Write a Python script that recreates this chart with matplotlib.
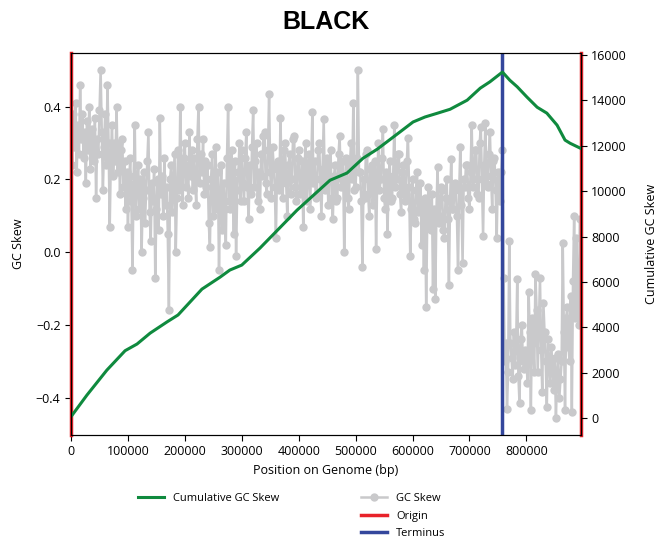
import matplotlib.pyplot as plt
import numpy as np

# Datos de la ventana deslizante (paso de 2000 bp)
paso_ventana = 2000
gc_skew = [
    0.32, 0.24, 0.38, 0.29, 0.41, 0.22, 0.35, 0.27, 0.46, 0.31,
    0.38, 0.26, 0.33, 0.19, 0.36, 0.28, 0.40, 0.23, 0.34, 0.30,
    0.25, 0.37, 0.15, 0.31, 0.27, 0.39, 0.50, 0.33, 0.17, 0.29,
    0.38, 0.24, 0.46, 0.30, 0.07, 0.26, 0.35, 0.21, 0.30, 0.25,
    0.40, 0.22, 0.30, 0.16, 0.28, 0.31, 0.18, 0.25, 0.12, 0.22,
    0.07, 0.19, 0.26, 0.14, -0.05, 0.21, 0.35, 0.10, 0.18, 0.24,
    0.12, 0.20, 0.00, 0.15, 0.22, 0.08, 0.17, 0.25, 0.33, 0.11,
    0.03, 0.19, 0.14, 0.23, -0.07, 0.12, 0.20, 0.06, 0.37, 0.16,
    0.21, 0.10, 0.26, 0.13, 0.18, 0.05, -0.16, 0.20, 0.24, 0.11,
    0.19, 0.27, 0.00, 0.15, 0.28, 0.17, 0.40, 0.22, 0.13, 0.26,
    0.30, 0.18, 0.24, 0.15, 0.33, 0.21, 0.28, 0.17, 0.26, 0.20,
    0.13, 0.31, 0.40, 0.19, 0.27, 0.22, 0.31, 0.16, 0.25, 0.18,
    0.24, 0.08, 0.015, 0.20, 0.27, 0.10, 0.18, 0.29, 0.12, 0.22,
    -0.05, 0.15, 0.24, 0.06, 0.19, 0.12, 0.02, 0.26, 0.40, 0.14,
    0.12, 0.28, 0.20, 0.05, 0.25, -0.01, 0.17, 0.22, 0.30, 0.14,
    0.28, 0.19, 0.14, 0.26, 0.33, 0.18, 0.09, 0.24, 0.16, 0.29,
    0.39, 0.18, 0.25, 0.30, 0.14, 0.22, 0.12, 0.27, 0.21, 0.32,
    0.33, 0.19, 0.16, 0.28, 0.435, 0.22, 0.15, 0.29, 0.24, 0.18,
    0.04, 0.23, 0.25, 0.17, 0.37, 0.21, 0.15, 0.28, 0.30, 0.19,
    0.10, 0.24, 0.27, 0.16, 0.20, 0.31, 0.32, 0.18, 0.14, 0.26,
    0.28, 0.16, 0.18, 0.25, 0.07, 0.21, 0.30, 0.14, 0.22, 0.27,
    0.12, 0.24, 0.385, 0.19, 0.25, 0.15, 0.16, 0.28, 0.30, 0.20,
    0.10, 0.23, 0.365, 0.17, 0.20, 0.26, 0.13, 0.24, 0.28, 0.15,
    0.09, 0.21, 0.24, 0.14, 0.15, 0.27, 0.32, 0.18, 0.20, 0.25,
    0.00, 0.19, 0.26, 0.15, 0.12, 0.24, 0.30, 0.20, 0.41, 0.17,
    0.18, 0.26, 0.50, 0.22, 0.22, 0.14, -0.04, 0.20, 0.15, 0.27,
    0.28, 0.16, 0.10, 0.23, 0.24, 0.13, 0.18, 0.25, 0.01, 0.20,
    0.30, 0.17, 0.20, 0.26, 0.34, 0.15, 0.12, 0.22, 0.05, 0.19,
    0.25, 0.14, 0.15, 0.21, 0.35, 0.18, 0.20, 0.27, 0.27, 0.16,
    0.11, 0.22, 0.24, 0.14, 0.16, 0.25, 0.315, 0.18, -0.01, 0.12,
    0.20, 0.09, 0.08, 0.17, 0.22, 0.11, 0.12, 0.19, 0.02, 0.14,
    -0.05, 0.15, -0.15, 0.10, 0.18, 0.07, 0.06, 0.16, -0.10, 0.12,
    -0.13, 0.11, 0.235, 0.08, 0.10, 0.18, 0.17, 0.06, 0.04, 0.15,
    0.20, 0.09, -0.09, 0.14, 0.255, 0.12, 0.12, 0.19, 0.18, 0.10,
    -0.05, 0.17, 0.29, 0.13, -0.03, 0.20, 0.18, 0.24, 0.24, 0.15,
    0.12, 0.22, 0.35, 0.18, 0.20, 0.28, 0.28, 0.16, 0.15, 0.30,
    0.345, 0.20, 0.045, 0.24, 0.355, 0.19, 0.18, 0.27, 0.33, 0.21,
    0.12, 0.25, 0.26, 0.17, 0.04, 0.22, 0.20, 0.14, 0.22, 0.28,
    -0.07, -0.30, -0.25, -0.43, -0.33, 0.03, -0.25, -0.29, -0.35, -0.22,
    -0.31, -0.26, -0.075, -0.34, -0.415, -0.24, -0.20, -0.30, -0.32, -0.27,
    -0.28, -0.36, -0.11, -0.22, -0.435, -0.18, -0.25, -0.33, -0.06, -0.16,
    -0.33, -0.20, -0.07, -0.27, -0.385, -0.14, -0.22, -0.30, -0.425, -0.24,
    -0.30, -0.36, -0.26, -0.32, -0.38, -0.29, -0.455, -0.34, -0.28, -0.40,
    -0.35, -0.30, 0.025, -0.22, -0.435, -0.18, -0.15, -0.26, -0.30, -0.12,
    -0.44, -0.08, 0.10, -0.18, 0.04, -0.10, -0.20, 0.09,
]
posiciones = np.arange(len(gc_skew)) * paso_ventana

# GC skew acumulado
pos_acumulado = [0, 28000, 63000, 95000, 116000, 139000, 169000, 188000, 230000,
                 262000, 279000, 300000, 332000, 397000, 455000, 485000, 513000,
                 538000, 578000, 601000, 622000, 643000, 666000, 696000, 719000,
                 736000, 758000, 771000, 784000, 801000, 819000, 836000, 854000,
                 868000, 877000, 891000, 896000]
gc_acumulado = [57, 1010, 2110, 2965, 3260, 3740, 4240, 4540, 5680,
                6210, 6520, 6740, 7490, 9160, 10480, 10800, 11450,
                11850, 12610, 13050, 13270, 13430, 13610, 14010, 14540,
                14820, 15250, 14890, 14600, 14150, 13700, 13440, 12910,
                12250, 12110, 11940, 11880]

longitud_genoma = 896000
origen = 0
terminus = 758000

plt.rcParams['font.family'] = ['Open Sans', 'DejaVu Sans']
plt.rcParams['font.size'] = 9

fig = plt.figure(figsize=(6.62, 5.41), dpi=100)
ax = fig.add_axes([0.1073, 0.196, 0.7703, 0.706])
ax2 = ax.twinx()

ax.plot(posiciones, gc_skew, color='#c9c9cb', marker='o', markersize=5,
        linewidth=1.8, label='GC Skew')
ax.axvline(origen, color='#e8222a', linewidth=2.5, label='Origin', clip_on=False)
ax.axvline(longitud_genoma, color='#e8222a', linewidth=2.5, clip_on=False)
ax.axvline(terminus, color='#34479c', linewidth=2.5, label='Terminus')
ax2.plot(pos_acumulado, gc_acumulado, color='#0f8a3e', linewidth=2.2,
         label='Cumulative GC Skew')

ax.set_xlim(0, longitud_genoma)
ax2.set_ylim(-750, 16090)
ax.set_xticks(np.arange(0, 800001, 100000))
ax.set_xticklabels([str(v) for v in range(0, 800001, 100000)])
ax2.set_yticks(np.arange(0, 16001, 2000))

ax.set_xlabel('Position on Genome (bp)')
ax.set_ylabel('GC Skew', labelpad=8)
ax2.set_ylabel('Cumulative GC Skew', labelpad=13)
ax.set_title('BLACK', fontsize=18, fontweight='bold', family='Liberation Sans', pad=17)

for a in (ax, ax2):
    a.tick_params(direction='out', length=4, width=0.8)
    for s in a.spines.values():
        s.set_linewidth(0.8)

fig.legend(*ax2.get_legend_handles_labels(), loc='upper left',
           bbox_to_anchor=(0.201, 0.097), frameon=False, fontsize=8,
           borderaxespad=0, handlelength=2.4)
fig.legend(*ax.get_legend_handles_labels(), loc='upper left',
           bbox_to_anchor=(0.538, 0.097), frameon=False, fontsize=8,
           borderaxespad=0, handlelength=2.4, labelspacing=0.6)

plt.savefig('out.png', dpi=100)
